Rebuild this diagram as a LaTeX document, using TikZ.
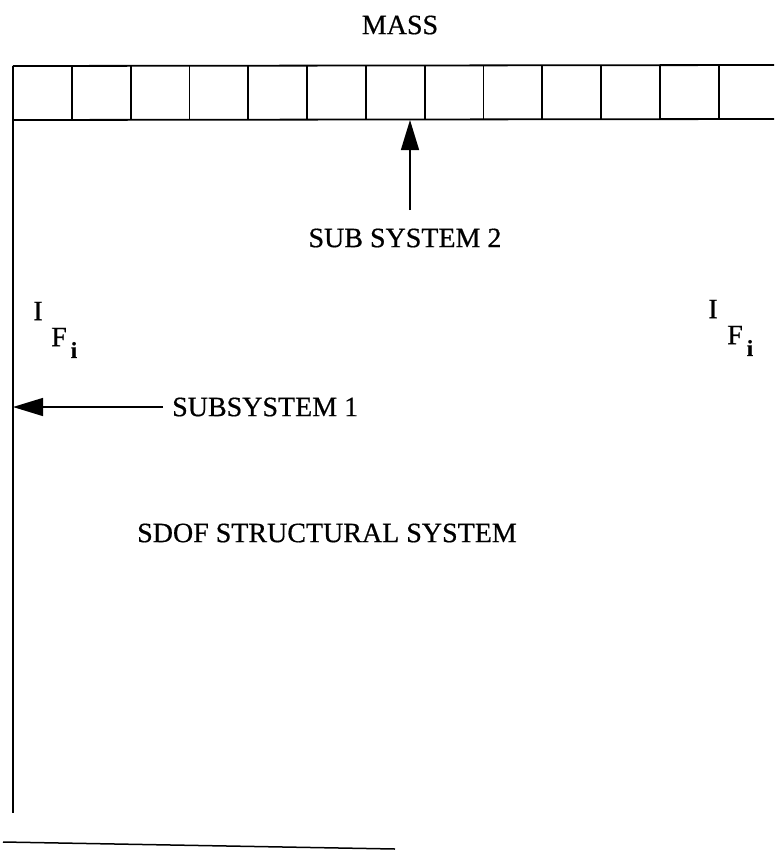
\documentclass[tikz,border=0pt]{standalone}
\usepackage{fontspec}
\setmainfont{Liberation Serif}
\newfontfamily\scanfont{Liberation Serif}[FakeBold=0.6]
\usetikzlibrary{arrows.meta}
\begin{document}
\begin{tikzpicture}[x=1pt,y=-1pt,
  line/.style={line width=1.8pt},
  lbl/.style={font=\scanfont\fontsize{28}{30}\selectfont, inner sep=0pt},
  sub/.style={font=\scanfont\fontsize{23}{25}\selectfont\bfseries, inner sep=0pt},
  ptr/.style={line width=1.4pt, -{Triangle[length=30pt,width=18pt]}}]
\useasboundingbox (0,0) rectangle (774,851);
% mass bar
\coordinate (tl) at (13,66);
\coordinate (tr) at (774,65);
\coordinate (bl) at (13,120);
\coordinate (br) at (774,119);
\draw[line] (tl) -- (tr);
\draw[line] (bl) -- (br);
\foreach \k in {0,...,12}{
  \draw[line] ({13+58.8*\k},66) -- ({13+58.8*\k},120);
}
% left column
\coordinate (lb) at (13,813);
\draw[line] (tl) -- (lb);
% ground line
\coordinate (g1) at (3,842);
\coordinate (g2) at (395,849);
\draw[line width=1.5pt] (g1) -- (g2);
% labels
\node[lbl] (mass) at (400,25) {MASS};
\node[lbl] (ss2) at (405,238) {SUB SYSTEM 2};
\coordinate (ss2tip) at (410,120);
\coordinate (ss2tail) at (410,210);
\draw[ptr] (ss2tail) -- (ss2tip);
\node[lbl, anchor=west] (ss1) at (172,407) {SUBSYSTEM 1};
\coordinate (ss1tip) at (13,407);
\coordinate (ss1tail) at (163,407);
\draw[ptr] (ss1tail) -- (ss1tip);
\node[lbl] (sdof) at (327,533) {SDOF STRUCTURAL SYSTEM};
% inertia force labels
\node[lbl] (il) at (38,311) {I};
\node[lbl] (fl) at (59,337) {F};
\node[sub] (sl) at (74,350) {i};
\node[lbl] (ir) at (713,309) {I};
\node[lbl] (fr) at (735,335) {F};
\node[sub] (sr) at (750,348) {i};
\end{tikzpicture}
\end{document}
